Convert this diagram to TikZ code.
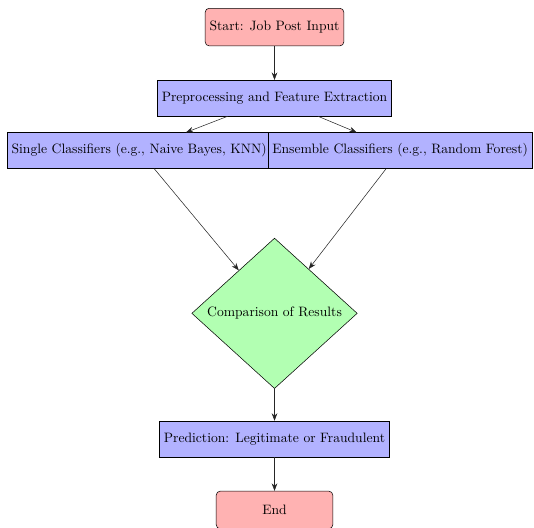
\documentclass[tikz,border=0pt]{standalone}
\usepackage{tikz}
\usetikzlibrary{
arrows.meta,
positioning,
shapes.geometric
}
\tikzset{
every node/.style={font=\fontsize{10.3pt}{12pt}\selectfont},
startstop/.style={draw, fill=red!30, rounded corners=3pt, align=center,
  minimum height=10mm, minimum width=31mm},
procbox/.style={draw, fill=blue!30, align=center, minimum height=9.5mm},
decision/.style={draw, diamond, fill=green!30, align=center, inner sep=0pt,
  minimum width=44mm, minimum height=40mm},
flowarrow/.style={-{Stealth[length=2mm]}, draw=black!85}
}
\begin{document}
\begin{tikzpicture}[node distance=9mm]
\useasboundingbox (0,0) rectangle (14.2,-14.02);
\node[startstop] (start) at (7.3,-0.72) {Start: Job Post Input};
\node[procbox, below=of start] (pre) {Preprocessing and Feature Extraction};
\node[procbox, below=4.3mm of pre, xshift=-3.6cm] (single) {Single Classifiers (e.g., Naive Bayes, KNN)};
\node[procbox, below=4.3mm of pre, xshift=3.34cm] (ensemble) {Ensemble Classifiers (e.g., Random Forest)};
\node[decision, below=18.4mm of pre |- single.south] (compare) {Comparison of Results};
\node[procbox, below=8.5mm of compare] (pred) {Prediction: Legitimate or Fraudulent};
\node[startstop, below=of pred] (end) {End};

\draw[flowarrow] (start) -- (pre);
\draw[flowarrow] (pre) -- (single);
\draw[flowarrow] (pre) -- (ensemble);
\draw[flowarrow] (single) -- (compare);
\draw[flowarrow] (ensemble) -- (compare);
\draw[flowarrow] (compare) -- (pred);
\draw[flowarrow] (pred) -- (end);
\end{tikzpicture}
\end{document}
